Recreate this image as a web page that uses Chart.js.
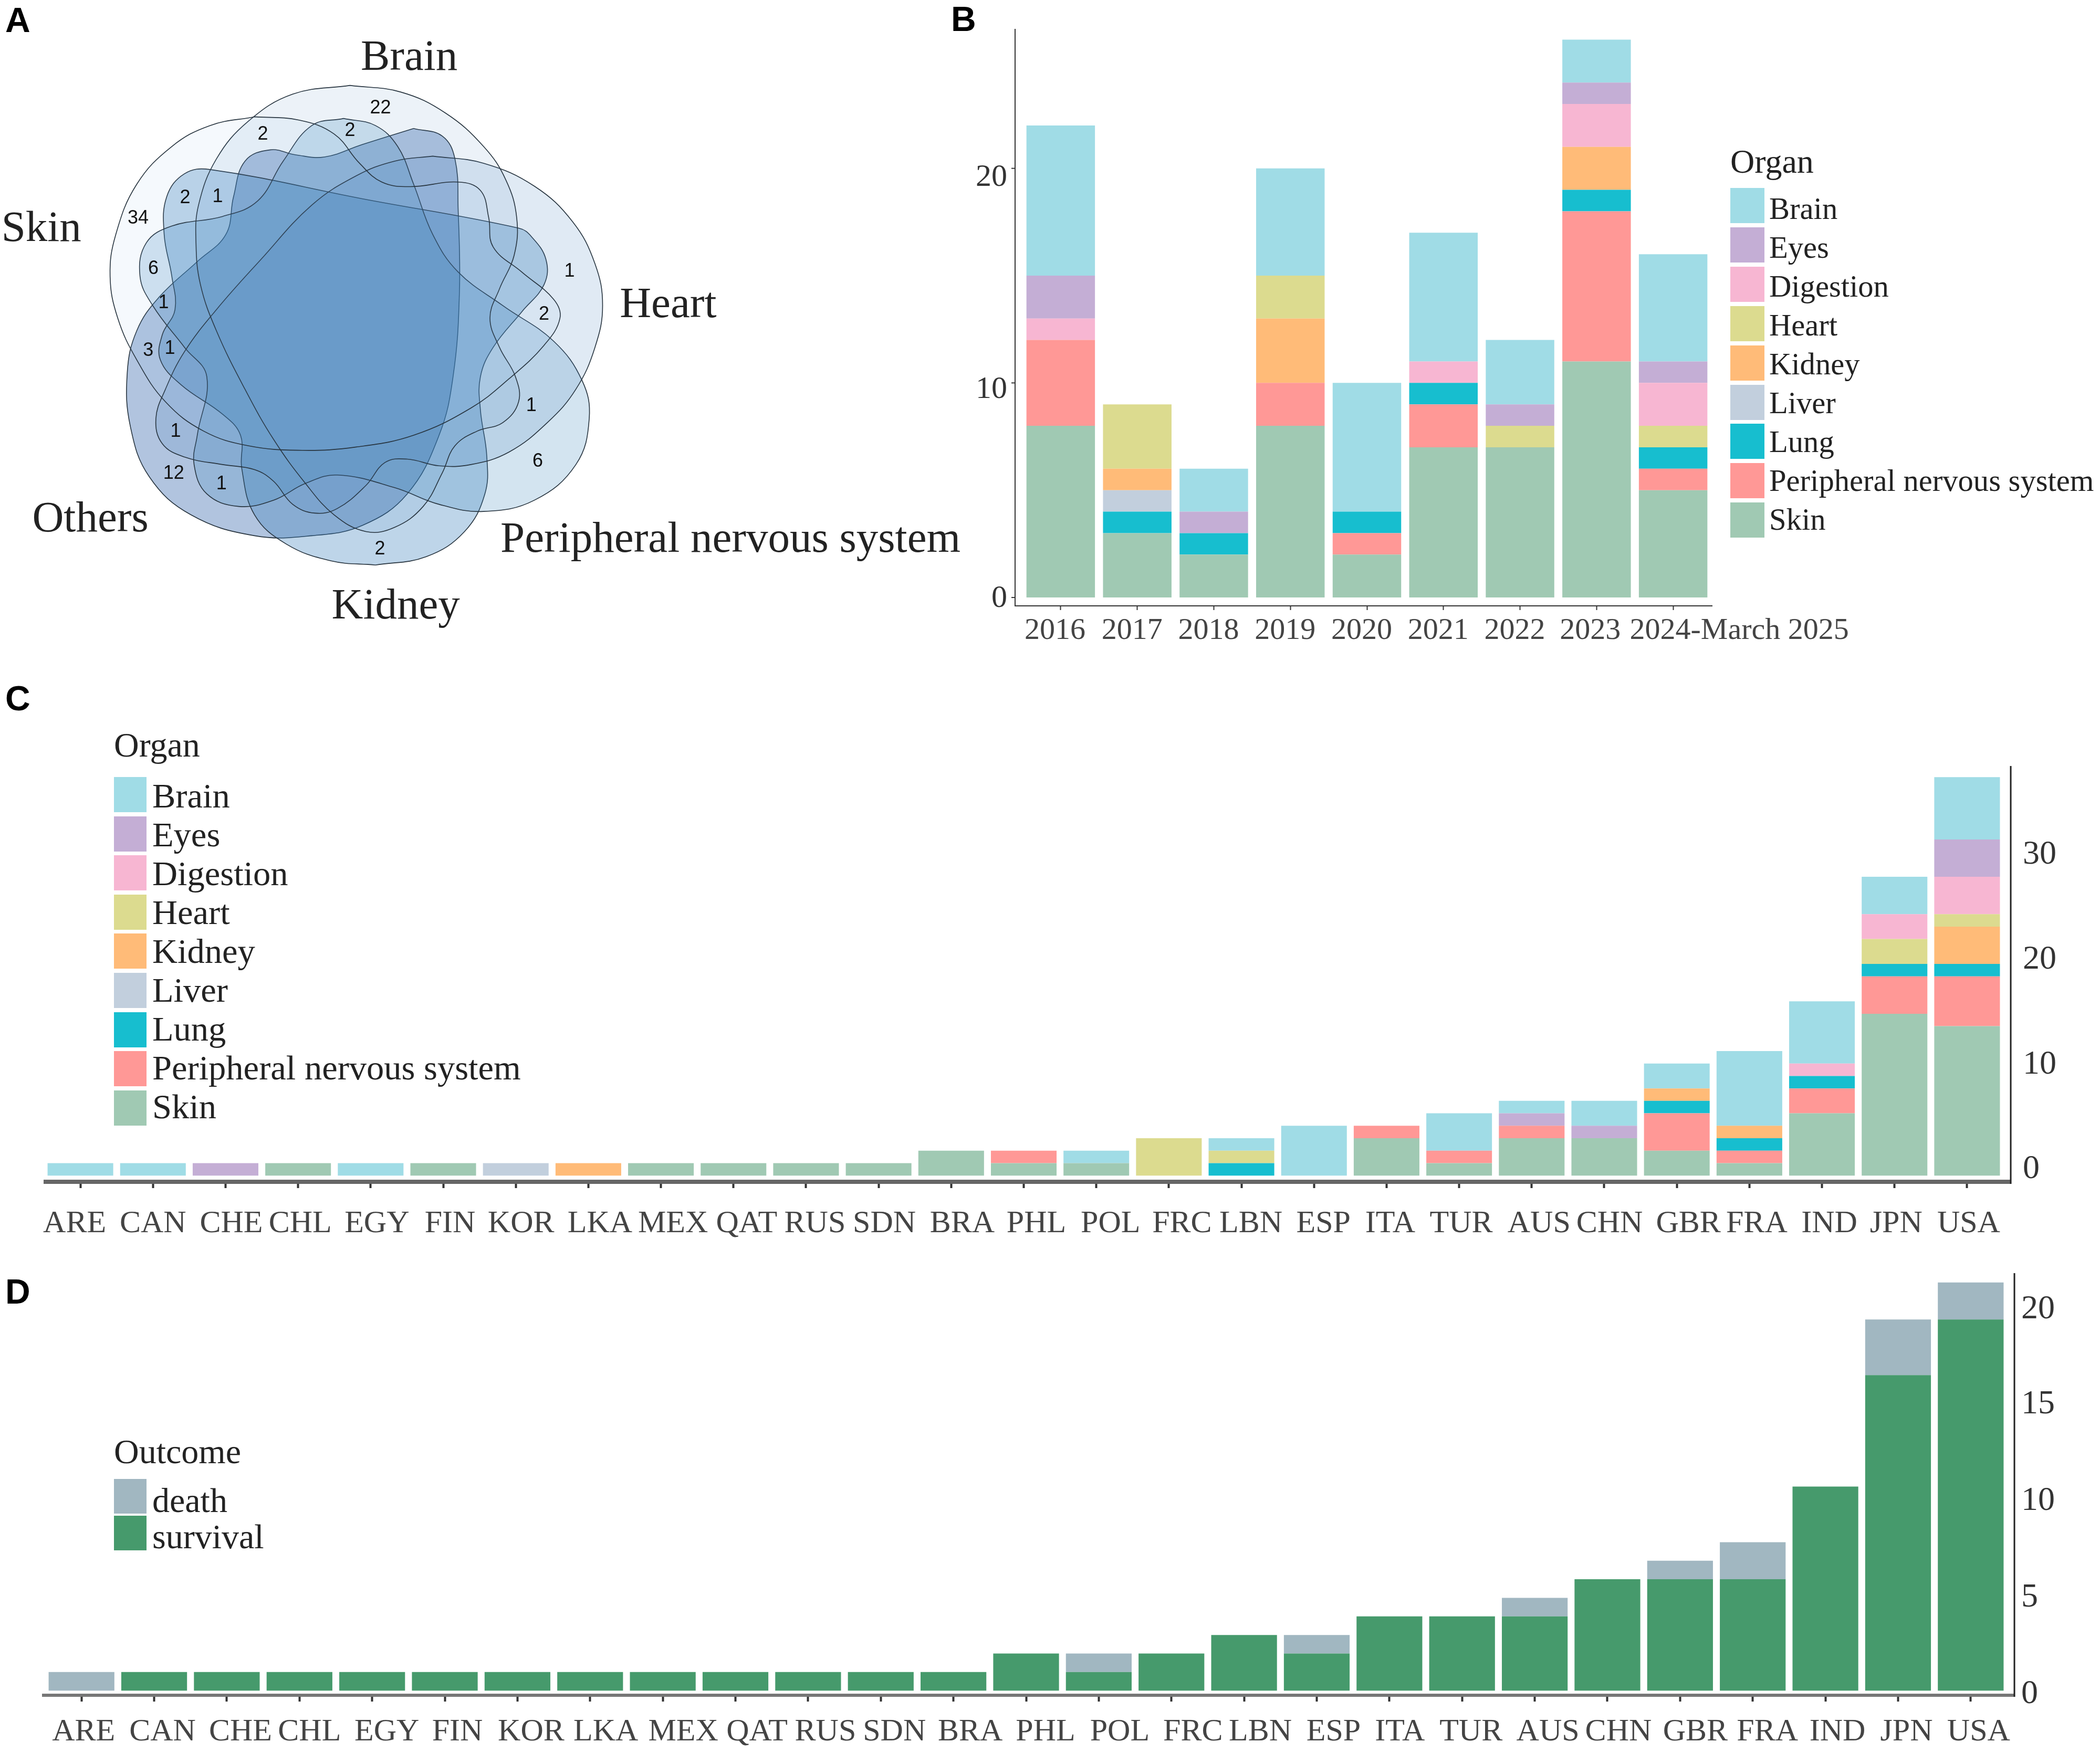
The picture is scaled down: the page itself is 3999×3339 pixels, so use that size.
<!DOCTYPE html>
<html>
<head>
<meta charset="utf-8">
<title>Organ involvement</title>
<script src="https://cdn.jsdelivr.net/npm/chart.js@4/dist/chart.umd.min.js"></script>
<style>
    html, body { margin: 0; padding: 0; background: #fff; }
    #page { position: relative; width: 3999px; height: 3339px; overflow: hidden; font-family: "Liberation Serif", serif; }
    canvas { position: absolute; left: 0; }
    .tag { position: absolute; font: bold 66px "Liberation Sans", sans-serif; color: #000; line-height: 1; transform: translateY(-50%); }
    .legend-title, .legend-text { position: absolute; color: #222; line-height: 1; white-space: nowrap; transform: translateY(-50%); }
    .legend-box { position: absolute; }
</style>
</head>
<body>
<div id="page"></div>
<script>
// panel A: set outlines and region counts, in the coordinates of the venn axes
const skinOutline = [[400,279],[470,287],[525,320],[565,390],[600,435],[645,446],[720,435],[755,455],[768,520],[775,590],[820,650],[870,715],[880,760],[855,825],[800,905],[740,975],[650,1040],[560,1068],[475,1076],[390,1065],[320,1030],[260,960],[215,860],[185,760],[173,660],[182,560],[215,440],[270,350],[330,300],[400,279]];
const brainOutline = [[550,204],[630,220],[700,270],[760,350],[795,430],[812,520],[808,610],[785,690],[770,760],[785,830],[810,900],[815,960],[790,1010],[750,1030],[715,1065],[695,1130],[665,1210],[620,1260],[575,1270],[525,1230],[480,1155],[430,1050],[385,930],[340,790],[315,680],[308,580],[312,490],[340,380],[390,290],[460,225],[550,204]];
const heartOutline = [[680,373],[760,390],[840,445],[900,530],[935,630],[947,730],[935,830],[905,930],[860,1010],[800,1080],[740,1110],[690,1113],[640,1097],[605,1105],[575,1160],[530,1215],[495,1226],[460,1205],[430,1150],[400,1122],[350,1110],[290,1092],[255,1060],[245,1000],[260,930],[290,840],[340,740],[410,620],[490,490],[560,420],[620,385],[680,373]];
const pnsOutline = [[540,283],[590,300],[625,350],[650,440],[680,560],[720,650],[790,730],[870,815],[915,910],[926,1000],[905,1110],[840,1195],[760,1222],[690,1205],[620,1165],[530,1135],[480,1155],[430,1195],[375,1210],[325,1180],[305,1110],[310,1040],[325,900],[290,830],[240,730],[220,660],[230,580],[270,540],[350,517],[405,480],[445,385],[490,300],[540,283]];
const kidneyOutline = [[590,1350],[670,1330],[730,1270],[762,1180],[765,1090],[755,980],[755,900],[775,830],[820,745],[855,680],[858,620],[835,565],[815,545],[570,475],[330,405],[290,415],[262,470],[258,560],[270,660],[275,740],[255,800],[252,860],[285,920],[350,990],[378,1040],[380,1120],[400,1230],[450,1300],[520,1340],[590,1350]];
const othersOutline = [[650,307],[695,325],[715,380],[720,500],[722,700],[712,900],[690,1040],[640,1180],[570,1255],[490,1280],[400,1280],[300,1230],[235,1140],[205,1020],[200,890],[215,790],[250,710],[310,625],[355,560],[367,470],[385,385],[425,358],[465,370],[510,375],[570,345],[650,307]];
const vennCounts = [['22',598,258],['2',413,321],['2',550,313],['2',291,473],['1',342,470],['34',217,522],['6',241,642],['1',257,724],['3',233,838],['1',267,833],['1',895,648],['2',855,752],['1',835,970],['1',276,1031],['6',845,1103],['12',273,1132],['1',348,1157],['2',597,1312]];
const vennNames = [['Brain',643,140],['Skin',65,548],['Heart',1050,730],['Others',142,1242],['Kidney',622,1450],['Peripheral nervous system',1148,1291]];

// panel B: reports per year
const years = ['2016','2017','2018','2019','2020','2021','2022','2023','2024-March 2025'];
const yearSkin = [8,3,2,8,2,7,7,11,5];
const yearPns = [4,0,0,2,1,2,0,7,1];
const yearLung = [0,1,1,0,1,1,0,1,1];
const yearLiver = [0,1,0,0,0,0,0,0,0];
const yearKidney = [0,1,0,3,0,0,0,2,0];
const yearHeart = [0,3,0,2,0,0,1,0,1];
const yearDigestion = [1,0,0,0,0,1,0,2,2];
const yearEyes = [2,0,1,0,0,0,1,1,1];
const yearBrain = [7,0,2,5,6,6,3,2,5];
const yearTicks = [0,10,20];

// panel C: reports per country and organ
const countries = ['ARE','CAN','CHE','CHL','EGY','FIN','KOR','LKA','MEX','QAT','RUS','SDN','BRA','PHL','POL','FRC','LBN','ESP','ITA','TUR','AUS','CHN','GBR','FRA','IND','JPN','USA'];
const countrySkin = [0,0,0,1,0,1,0,0,1,1,1,1,2,1,1,0,0,0,3,1,3,3,2,1,5,13,12];
const countryPns = [0,0,0,0,0,0,0,0,0,0,0,0,0,1,0,0,0,0,1,1,1,0,3,1,2,3,4];
const countryLung = [0,0,0,0,0,0,0,0,0,0,0,0,0,0,0,0,1,0,0,0,0,0,1,1,1,1,1];
const countryLiver = [0,0,0,0,0,0,1,0,0,0,0,0,0,0,0,0,0,0,0,0,0,0,0,0,0,0,0];
const countryKidney = [0,0,0,0,0,0,0,1,0,0,0,0,0,0,0,0,0,0,0,0,0,0,1,1,0,0,3];
const countryHeart = [0,0,0,0,0,0,0,0,0,0,0,0,0,0,0,3,1,0,0,0,0,0,0,0,0,2,1];
const countryDigestion = [0,0,0,0,0,0,0,0,0,0,0,0,0,0,0,0,0,0,0,0,0,0,0,0,1,2,3];
const countryEyes = [0,0,1,0,0,0,0,0,0,0,0,0,0,0,0,0,0,0,0,0,1,1,0,0,0,0,3];
const countryBrain = [1,1,0,0,1,0,0,0,0,0,0,0,0,0,1,0,1,4,0,3,1,2,2,6,5,3,5];
const countryTicks = [0,10,20,30];

// panel D: outcome per country
const survival = [0,1,1,1,1,1,1,1,1,1,1,1,1,2,1,2,3,2,4,4,4,6,6,6,11,17,20];
const death = [1,0,0,0,0,0,0,0,0,0,0,0,0,0,1,0,0,1,0,0,1,0,1,2,0,3,2];
const outcomeTicks = [0,5,10,15,20];

const organNames = ['Brain','Eyes','Digestion','Heart','Kidney','Liver','Lung','Peripheral nervous system','Skin'];
const organColors = ['#a0dce6','#c4aed5','#f7b6d2','#dcdb8f','#ffbb78','#c2cfdd','#17becf','#ff9896','#a0c9b3'];
const outcomeNames = ['death','survival'];
const outcomeColors = ['#a1b7c1','#469a6c'];

const SERIF = '"Liberation Serif", serif';
const page = document.getElementById('page');

// The labels of the reference do not sit exactly on their ticks, so they get moved by hand.
const panelAxes = {
    id: 'panelAxes',
    beforeDraw(chart, args, opts) {
        [['x', opts.xShift, 0], ['y', opts.yShift, 1]].forEach(([id, shift, k]) => {
            if (!shift || !chart.scales[id]) return;
            const items = chart.scales[id].getLabelItems();
            if (items.shifted) return;
            items.forEach((item, i) => { item.options.translation[k] += shift[i] || 0; });
            items.shifted = true;
        });
    },
    afterDraw(chart, args, opts) {
        if (opts.xFrom === undefined) return;
        const ctx = chart.ctx;
        const { top, bottom } = chart.chartArea;
        ctx.save();
        ctx.strokeStyle = opts.xColor;
        ctx.lineWidth = opts.xWidth;
        ctx.beginPath();
        ctx.moveTo(opts.xFrom, bottom);
        ctx.lineTo(opts.xTo, bottom);
        ctx.stroke();
        ctx.strokeStyle = opts.yColor;
        ctx.lineWidth = opts.yWidth;
        ctx.beginPath();
        ctx.moveTo(opts.yAt, top);
        ctx.lineTo(opts.yAt, bottom + opts.xWidth / 2);
        ctx.stroke();
        if (opts.yTickLen) {
            chart.scales.y.ticks.forEach(t => {
                const y = chart.scales.y.getPixelForValue(t.value);
                ctx.beginPath();
                ctx.moveTo(opts.yAt - opts.yTickLen, y);
                ctx.lineTo(opts.yAt, y);
                ctx.stroke();
            });
        }
        ctx.restore();
    }
};

const vennText = {
    id: 'vennText',
    afterDatasetsDraw(chart) {
        const { ctx, scales: { x, y } } = chart;
        ctx.save();
        ctx.textAlign = 'center';
        ctx.textBaseline = 'middle';
        ctx.fillStyle = '#111';
        ctx.font = '36px "Liberation Sans", sans-serif';
        vennCounts.forEach(([t, px, py]) => ctx.fillText(t, x.getPixelForValue(px), y.getPixelForValue(py)));
        ctx.fillStyle = '#222';
        ctx.font = '83px ' + SERIF;
        vennNames.forEach(([t, px, py]) => ctx.fillText(t, x.getPixelForValue(px), y.getPixelForValue(py)));
        ctx.restore();
    }
};

function addCanvas(top, height) {
    const c = document.createElement('canvas');
    c.width = 3999;
    c.height = height;
    c.style.top = top + 'px';
    page.appendChild(c);
    return c;
}

function addTag(text, x, y) {
    const d = document.createElement('div');
    d.className = 'tag';
    d.textContent = text;
    d.style.left = x + 'px';
    d.style.top = y + 'px';
    page.appendChild(d);
}

function addLegend(title, names, colors, o) {
    const t = document.createElement('div');
    t.className = 'legend-title';
    t.textContent = title;
    t.style.cssText = `left:${o.x}px;top:${o.titleY}px;font-size:${o.titleSize}px`;
    page.appendChild(t);
    names.forEach((name, i) => {
        const b = document.createElement('div');
        b.className = 'legend-box';
        b.style.cssText = `left:${o.x}px;top:${o.y + i * o.pitch}px;width:${o.boxW}px;height:${o.boxH}px;background:${colors[i]}`;
        page.appendChild(b);
        const l = document.createElement('div');
        l.className = 'legend-text';
        l.textContent = name;
        l.style.cssText = `left:${o.x + o.boxW + o.textGap}px;top:${o.textY + i * o.textPitch}px;font-size:${o.size}px`;
        page.appendChild(l);
    });
}

function makeStacked(canvas, labels, series, colors, o) {
    return new Chart(canvas.getContext('2d'), {
        type: 'bar',
        plugins: [panelAxes],
        data: {
            labels,
            datasets: series.map((data, i) => ({
                data,
                backgroundColor: colors[i],
                borderWidth: 0,
                barPercentage: o.barPct,
                categoryPercentage: 1
            }))
        },
        options: {
            responsive: false,
            animation: false,
            devicePixelRatio: 1,
            layout: { padding: o.padding },
            plugins: { legend: { display: false }, tooltip: { enabled: false }, panelAxes: o.axes },
            scales: {
                x: {
                    stacked: true,
                    afterFit(s) { s.height = o.xBox; s.paddingLeft = 0; s.paddingRight = 0; },
                    border: { display: false },
                    grid: { display: true, drawOnChartArea: false, offset: false, tickLength: o.tickLen, tickWidth: o.tickWidth, tickColor: '#333' },
                    ticks: { autoSkip: false, maxRotation: 0, minRotation: 0, padding: o.xPad, color: '#444', font: { family: SERIF, size: o.xFont } }
                },
                y: {
                    stacked: true,
                    position: o.yPos,
                    min: o.yMin,
                    max: o.yMax,
                    afterFit(s) { s.width = o.yBox; s.paddingTop = 0; s.paddingBottom = 0; },
                    afterBuildTicks(s) { s.ticks = o.yTicks.map(value => ({ value })); },
                    border: { display: false },
                    grid: { display: false, drawTicks: false },
                    ticks: { padding: o.yPad, color: '#333', font: { family: SERIF, size: o.yFont } }
                }
            }
        }
    });
}

// panel A
new Chart(addCanvas(0, 1250).getContext('2d'), {
    type: 'scatter',
    plugins: [vennText],
    data: {
        datasets: [
            [skinOutline, 'rgba(120,170,220,0.07)'],
            [brainOutline, 'rgba(70,130,190,0.10)'],
            [heartOutline, 'rgba(60,125,185,0.16)'],
            [pnsOutline, 'rgba(55,130,185,0.22)'],
            [kidneyOutline, 'rgba(45,120,185,0.31)'],
            [othersOutline, 'rgba(50,100,170,0.38)']
        ].map(([outline, fill]) => ({
            data: outline.map(([x, y]) => ({ x, y })),
            showLine: true,
            fill: 'shape',
            backgroundColor: fill,
            borderColor: '#27343f',
            borderWidth: 1.6,
            pointRadius: 0,
            tension: 0.4
        }))
    },
    options: {
        responsive: false,
        animation: false,
        devicePixelRatio: 1,
        layout: { padding: { left: 0, right: 2099, top: 0, bottom: 0 } },
        plugins: { legend: { display: false }, tooltip: { enabled: false } },
        scales: {
            x: { type: 'linear', display: false, min: 0, max: 1568 },
            y: { type: 'linear', display: false, min: 0, max: 1568, reverse: true }
        }
    }
});

// panel B
makeStacked(addCanvas(0, 1280),
    years,
    [yearSkin, yearPns, yearLung, yearLiver, yearKidney, yearHeart, yearDigestion, yearEyes, yearBrain],
    organColors.slice().reverse(),
    {
        padding: { left: 0, right: 740, top: 55, bottom: 0 },
        xBox: 126, yBox: 1947,
        barPct: 0.895,
        tickLen: 8, tickWidth: 2,
        xPad: 5, xFont: 58,
        yPos: 'left', yMin: -0.39, yMax: 26.5, yTicks: yearTicks, yPad: 29, yFont: 60,
        axes: {
            xFrom: 1933, xTo: 3261, xColor: '#333', xWidth: 2,
            yAt: 1933, yColor: '#333', yWidth: 2, yTickLen: 7,
            xShift: [-11,-10,-10,-10,-10,-10,-10,-12,126],
            yShift: [2,13,18]
        }
    });
addLegend('Organ', organNames, organColors, { x: 3295, y: 358, pitch: 74.9, boxW: 65, boxH: 67, titleY: 308, titleSize: 64, size: 58.6, textY: 398, textPitch: 74, textGap: 9 });

// panel C
makeStacked(addCanvas(1400, 1000),
    countries,
    [countrySkin, countryPns, countryLung, countryLiver, countryKidney, countryHeart, countryDigestion, countryEyes, countryBrain],
    organColors.slice().reverse(),
    {
        padding: { left: 84, right: 0, top: 59, bottom: 0 },
        xBox: 149, yBox: 184,
        barPct: 0.905,
        tickLen: 12, tickWidth: 4,
        xPad: 32, xFont: 60,
        yPos: 'right', yMin: -0.5, yMax: 32.9, yTicks: countryTicks, yPad: 37, yFont: 64,
        axes: {
            xFrom: 83, xTo: 3829, xColor: '#666', xWidth: 8,
            yAt: 3829, yColor: '#222', yWidth: 3,
            xShift: [-11,0,11,4,12,13,10,22,23,25,17,11,21,24,27,25,18,18,7,4,14,10,22,14,14,3,3],
            yShift: [-12,26,63,100]
        }
    });
addLegend('Organ', organNames, organColors, { x: 217, y: 1480, pitch: 74.6, boxW: 62, boxH: 67, titleY: 1419, titleSize: 66, size: 66.5, textY: 1516, textPitch: 74, textGap: 11 });

// panel D
makeStacked(addCanvas(2400, 939),
    countries,
    [survival, death],
    outcomeColors.slice().reverse(),
    {
        padding: { left: 86, right: 0, top: 25, bottom: 0 },
        xBox: 110, yBox: 177,
        barPct: 0.905,
        tickLen: 12, tickWidth: 4,
        xPad: 22, xFont: 60,
        yPos: 'right', yMin: -0.25, yMax: 22.5, yTicks: outcomeTicks, yPad: 27, yFont: 64,
        axes: {
            xFrom: 80, xTo: 3836, xColor: '#777', xWidth: 6,
            yAt: 3836, yColor: '#222', yWidth: 3,
            xShift: [4,16,26,19,28,24,26,30,39,41,33,26,32,37,40,41,31,32,20,17,25,21,29,28,23,16,15],
            yShift: [7,0,-8,-15,-19]
        }
    });
addLegend('Outcome', outcomeNames, outcomeColors, { x: 217, y: 2817, pitch: 70, boxW: 62, boxH: 66, titleY: 2765, titleSize: 66, size: 66, textY: 2858, textPitch: 69, textGap: 11 });

addTag('A', 10, 38);
addTag('B', 1811, 36);
addTag('C', 10, 1330);
addTag('D', 10, 2460);
</script>
</body>
</html>
